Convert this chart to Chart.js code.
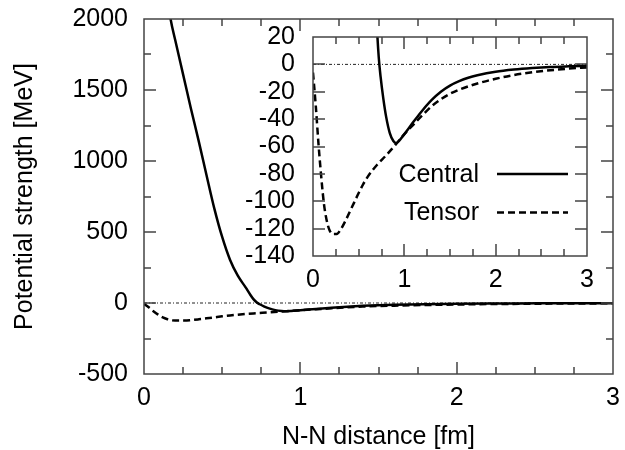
<!DOCTYPE html>
<html lang="en">
<head>
    <meta charset="UTF-8">
    <script src="https://cdn.jsdelivr.net/npm/chart.js"></script>
    <title>N-N potential</title>
    <style>
        body { margin: 0; background: #fff; }
        #wrap { position: relative; width: 625px; height: 450px; }
        #mainChart { position: absolute; left: 0; top: 0; }
        #insetChart { position: absolute; left: 240px; top: 25px; }
    </style>
</head>
<body>
    <div id="wrap">
        <canvas id="mainChart" width="625" height="450"></canvas>
        <canvas id="insetChart" width="360" height="270"></canvas>
    </div>

    <script>
        // Central potential (MeV) vs distance (fm)
        const centralR = [0.15, 0.17, 0.2, 0.25, 0.3, 0.35, 0.4, 0.45, 0.5, 0.55, 0.6, 0.65, 0.68, 0.7, 0.72, 0.74, 0.77, 0.8, 0.84, 0.88, 0.91, 0.94, 1.0, 1.1, 1.2, 1.3, 1.4, 1.5, 1.6, 1.7, 1.8, 2.0, 2.2, 2.4, 2.6, 2.8, 3.0];
        const centralV = [2150, 2000, 1850, 1610, 1370, 1140, 900, 665, 465, 305, 192, 110, 58, 27, 5, -9, -25, -38, -50, -56, -57.5, -56, -51, -42, -33.5, -26, -20, -15.5, -12.3, -9.8, -8, -5.4, -3.8, -2.7, -1.9, -1.4, -1.0];

        // Tensor potential
        const tensorR = [0, 0.03, 0.06, 0.09, 0.12, 0.15, 0.18, 0.22, 0.26, 0.3, 0.35, 0.4, 0.45, 0.5, 0.55, 0.6, 0.65, 0.7, 0.8, 0.9, 1.0, 1.1, 1.2, 1.3, 1.4, 1.5, 1.6, 1.8, 2.0, 2.2, 2.4, 2.6, 2.8, 3.0];
        const tensorV = [-6, -30, -58, -82, -102, -114, -121, -124, -124, -121, -115, -108, -101, -94, -87.5, -82, -77.5, -73.5, -66.5, -59, -51, -44, -37, -30.5, -25.5, -21.5, -18.5, -14, -10.5, -7.8, -5.8, -4.3, -3.1, -2.2];

        // zero reference line
        const zeroR = [0, 3];
        const zeroV = [0, 0];

        const seriesNames = ['Central', 'Tensor'];

        const FONT = "'Liberation Sans', Arial, Helvetica, sans-serif";
        Chart.defaults.font.family = FONT;
        Chart.defaults.font.size = 25;
        Chart.defaults.color = '#000';

        function pts(xs, ys) {
            return xs.map((v, i) => ({ x: v, y: ys[i] }));
        }

        function makeDatasets() {
            return [
                {
                    label: seriesNames[0],
                    data: pts(centralR, centralV),
                    borderColor: '#000',
                    borderWidth: 2.5,
                    pointRadius: 0,
                    cubicInterpolationMode: 'monotone',
                },
                {
                    label: seriesNames[1],
                    data: pts(tensorR, tensorV),
                    borderColor: '#000',
                    borderWidth: 2.5,
                    borderDash: [7, 4],
                    pointRadius: 0,
                    cubicInterpolationMode: 'monotone',
                },
                {
                    label: 'zero',
                    data: pts(zeroR, zeroV),
                    borderColor: '#222',
                    borderWidth: 1,
                    borderDash: [3, 2, 1, 2],
                    pointRadius: 0,
                },
            ];
        }

        // keep the plot box where we put it (no extra room for end labels)
        function noPad(s) {
            s.paddingTop = 0;
            s.paddingBottom = 0;
            s.paddingLeft = 0;
            s.paddingRight = 0;
        }

        // gnuplot style frame with inward ticks on all four sides
        const frameTicks = {
            id: 'frameTicks',
            afterDatasetsDraw(chart) {
                const { ctx, chartArea: a, scales: { x, y } } = chart;
                ctx.save();
                ctx.strokeStyle = '#444';
                ctx.lineWidth = 1.5;
                ctx.beginPath();
                x.ticks.forEach(t => {
                    if (t.value <= x.min || t.value >= x.max) return;
                    const px = Math.round(x.getPixelForValue(t.value));
                    const len = t.label !== '' ? 12 : 7;
                    ctx.moveTo(px, a.bottom); ctx.lineTo(px, a.bottom - len);
                    ctx.moveTo(px, a.top); ctx.lineTo(px, a.top + len);
                });
                y.ticks.forEach(t => {
                    if (t.value <= y.min || t.value >= y.max) return;
                    const py = Math.round(y.getPixelForValue(t.value));
                    const len = t.label !== '' ? 12 : 7;
                    ctx.moveTo(a.left, py); ctx.lineTo(a.left + len, py);
                    ctx.moveTo(a.right, py); ctx.lineTo(a.right - len, py);
                });
                ctx.stroke();
                ctx.strokeRect(a.left, a.top, a.right - a.left, a.bottom - a.top);
                ctx.restore();
            }
        };

        // legend with text first, line sample after (inset only)
        const textLegend = {
            id: 'textLegend',
            afterDraw(chart) {
                const { ctx } = chart;
                const rows = [149, 187.5];
                ctx.save();
                ctx.font = '25px ' + FONT;
                ctx.textAlign = 'right';
                ctx.textBaseline = 'middle';
                ctx.fillStyle = '#000';
                chart.data.datasets.slice(0, 2).forEach((ds, i) => {
                    const yy = rows[i];
                    ctx.fillText(ds.label, 239, yy + 1);
                    ctx.strokeStyle = ds.borderColor;
                    ctx.lineWidth = ds.borderWidth;
                    ctx.setLineDash(ds.borderDash || []);
                    ctx.beginPath();
                    ctx.moveTo(257, yy);
                    ctx.lineTo(328, yy);
                    ctx.stroke();
                });
                ctx.restore();
            }
        };

        const mainChart = new Chart(document.getElementById('mainChart'), {
            type: 'line',
            data: { datasets: makeDatasets() },
            options: {
                responsive: false,
                animation: false,
                devicePixelRatio: 1,
                layout: { padding: { top: 19, right: 12, bottom: 0, left: 0 } },
                plugins: { legend: { display: false }, tooltip: { enabled: false } },
                scales: {
                    x: {
                        type: 'linear',
                        min: 0,
                        max: 3,
                        grid: { display: false, drawTicks: false },
                        border: { display: false },
                        ticks: {
                            stepSize: 0.25,
                            autoSkip: false,
                            maxRotation: 0,
                            padding: 9,
                            callback: v => Number.isInteger(v) ? String(v) : '',
                        },
                        title: {
                            display: true,
                            text: 'N-N distance [fm]',
                            font: { size: 25, lineHeight: 1 },
                            padding: { top: 0, bottom: 0.5 },
                        },
                        afterFit: s => { s.height = 76; noPad(s); },
                    },
                    y: {
                        min: -500,
                        max: 2000,
                        grid: { display: false, drawTicks: false },
                        border: { display: false },
                        ticks: {
                            stepSize: 250,
                            autoSkip: false,
                            padding: 16,
                            callback: v => v % 500 === 0 ? String(v) : '',
                        },
                        title: {
                            display: true,
                            text: 'Potential strength [MeV]',
                            font: { size: 25, lineHeight: 1 },
                            padding: { top: 12.5, bottom: 0 },
                        },
                        afterFit: s => { s.width = 144; noPad(s); },
                    },
                },
            },
            plugins: [frameTicks],
        });

        const insetChart = new Chart(document.getElementById('insetChart'), {
            type: 'line',
            data: { datasets: makeDatasets() },
            options: {
                responsive: false,
                animation: false,
                devicePixelRatio: 1,
                layout: { padding: { top: 12, right: 13, bottom: 0, left: 0 } },
                plugins: { legend: { display: false }, tooltip: { enabled: false } },
                scales: {
                    x: {
                        type: 'linear',
                        min: 0,
                        max: 3,
                        grid: { display: false, drawTicks: false },
                        border: { display: false },
                        ticks: {
                            stepSize: 0.25,
                            autoSkip: false,
                            maxRotation: 0,
                            padding: 9,
                            callback: v => Number.isInteger(v) ? String(v) : '',
                        },
                        afterFit: s => { s.height = 39; noPad(s); },
                    },
                    y: {
                        min: -140,
                        max: 20,
                        grid: { display: false, drawTicks: false },
                        border: { display: false },
                        ticks: {
                            stepSize: 20,
                            autoSkip: false,
                            padding: 18,
                        },
                        afterFit: s => { s.width = 73; noPad(s); },
                    },
                },
            },
            plugins: [frameTicks, textLegend],
        });
    </script>
</body>
</html>
